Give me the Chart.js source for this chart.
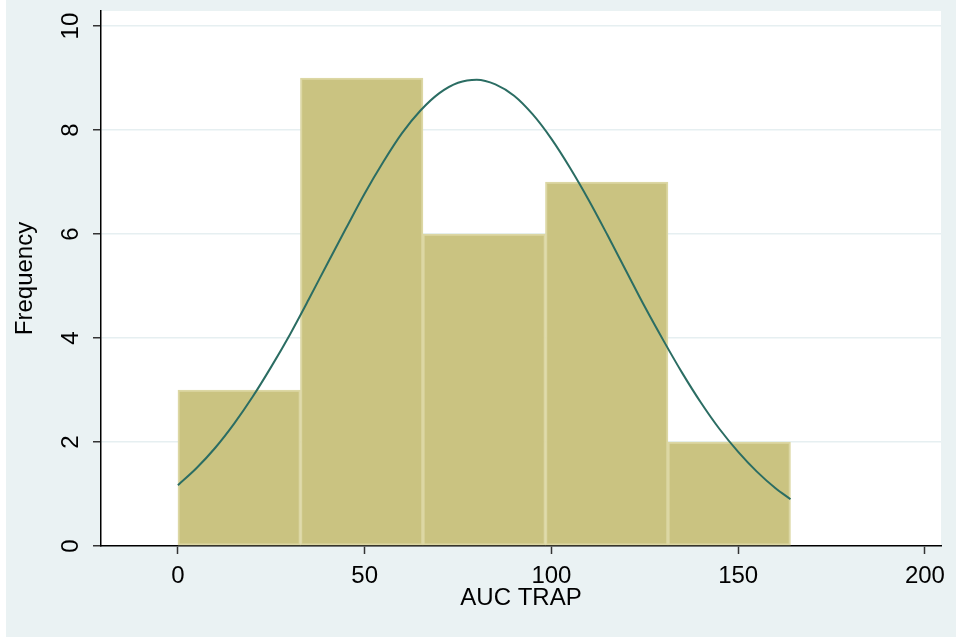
<!DOCTYPE html>
<html>
<head>
<meta charset="utf-8">
<script src="https://cdn.jsdelivr.net/npm/chart.js@4/dist/chart.umd.min.js"></script>
<style>
html,body{margin:0;padding:0;background:#eaf2f3;}
canvas{display:block;}
</style>
</head>
<body>
<canvas id="c" width="956" height="637"></canvas>
<script>
// Histogram of AUC TRAP
const binEdges = [0, 32.8, 65.6, 98.4, 131.2, 164];
const counts = [3, 9, 6, 7, 2];
// Normal density overlay (in frequency units)
const curveX = [0, 5, 10, 15, 20, 25, 30, 35, 40, 45, 50, 55, 60, 65, 70, 75, 80, 85, 90, 95, 100, 105, 110, 115, 120, 125, 130, 135, 140, 145, 150, 155, 160, 164];
const curveY = [1.17, 1.50, 1.89, 2.35, 2.87, 3.45, 4.07, 4.74, 5.43, 6.11, 6.78, 7.39, 7.94, 8.38, 8.71, 8.91, 8.97, 8.88, 8.66, 8.30, 7.83, 7.27, 6.65, 5.98, 5.29, 4.60, 3.95, 3.33, 2.76, 2.25, 1.81, 1.43, 1.11, 0.90];
const xTicks = [0, 50, 100, 150, 200];
const yTicks = [0, 2, 4, 6, 8, 10];
const xTitle = 'AUC TRAP';
const yTitle = 'Frequency';

const barData = counts.map((c, i) => ({x: (binEdges[i] + binEdges[i + 1]) / 2, y: c}));
const lineData = curveX.map((x, i) => ({x: x, y: curveY[i]}));

const FONT = 'Liberation Sans, Arial, Helvetica, sans-serif';

const bgPlugin = {
  id: 'bg',
  beforeDraw(chart) {
    const ctx = chart.ctx, a = chart.chartArea;
    ctx.save();
    ctx.fillStyle = '#eaf2f3';
    ctx.fillRect(0, 0, chart.width, chart.height);
    ctx.fillStyle = '#ffffff';
    ctx.fillRect(0, 0, 6, chart.height);
    ctx.fillRect(a.left, a.top, a.right - a.left, a.bottom - a.top);
    ctx.restore();
  }
};

const yLabelPlugin = {
  id: 'ylabels',
  afterDraw(chart) {
    const ctx = chart.ctx, s = chart.scales.y;
    ctx.save();
    ctx.fillStyle = '#000';
    ctx.font = '24px ' + FONT;
    ctx.textAlign = 'center';
    ctx.textBaseline = 'middle';
    yTicks.forEach(v => {
      const y = s.getPixelForValue(v);
      ctx.save();
      ctx.translate(71, y);
      ctx.rotate(-Math.PI / 2);
      ctx.fillText(String(v), 0, 0);
      ctx.restore();
    });
    ctx.restore();
  }
};

new Chart(document.getElementById('c'), {
  data: {
    datasets: [
      {
        type: 'line',
        data: lineData,
        borderColor: '#2b6d63',
        borderWidth: 2,
        pointRadius: 0,
        cubicInterpolationMode: 'monotone',
        fill: false,
        order: 0
      },
      {
        type: 'bar',
        data: barData,
        backgroundColor: '#cac381',
        borderColor: '#dcd7a4',
        borderWidth: 2,
        borderSkipped: false,
        barPercentage: 1,
        categoryPercentage: 1,
        order: 1
      }
    ]
  },
  options: {
    responsive: false,
    devicePixelRatio: 1,
    animation: false,
    layout: {padding: {left: 6, top: 11, right: 15, bottom: 0}},
    plugins: {legend: {display: false}, tooltip: {enabled: false}},
    scales: {
      x: {
        type: 'linear',
        offset: false,
        min: -20.6,
        max: 204.3,
        afterBuildTicks(s) { s.ticks = xTicks.map(v => ({value: v})); },
        afterFit(s) { s.height = 91; },
        grid: {display: true, offset: false, drawOnChartArea: false, drawTicks: true, tickLength: 8, tickColor: '#333', tickWidth: 1.5},
        border: {display: true, color: '#000', width: 1.5},
        ticks: {color: '#000', font: {family: FONT, size: 24}, padding: 8, maxRotation: 0, autoSkip: false},
        title: {display: true, text: xTitle, color: '#000', font: {family: FONT, size: 24}, padding: {top: 0, bottom: 24}}
      },
      y: {
        type: 'linear',
        min: 0,
        max: 10.29,
        afterBuildTicks(s) { s.ticks = yTicks.map(v => ({value: v})); },
        afterFit(s) { s.width = 95; },
        grid: {display: true, color: '#e6eff1', lineWidth: 1.5, drawTicks: true, tickLength: 8, tickColor: '#333', tickWidth: 1.5},
        border: {display: true, color: '#000', width: 1.5},
        ticks: {display: false},
        title: {display: true, text: yTitle, color: '#000', font: {family: FONT, size: 24}, padding: {top: 5, bottom: 0}}
      }
    }
  },
  plugins: [bgPlugin, yLabelPlugin]
});
</script>
</body>
</html>
